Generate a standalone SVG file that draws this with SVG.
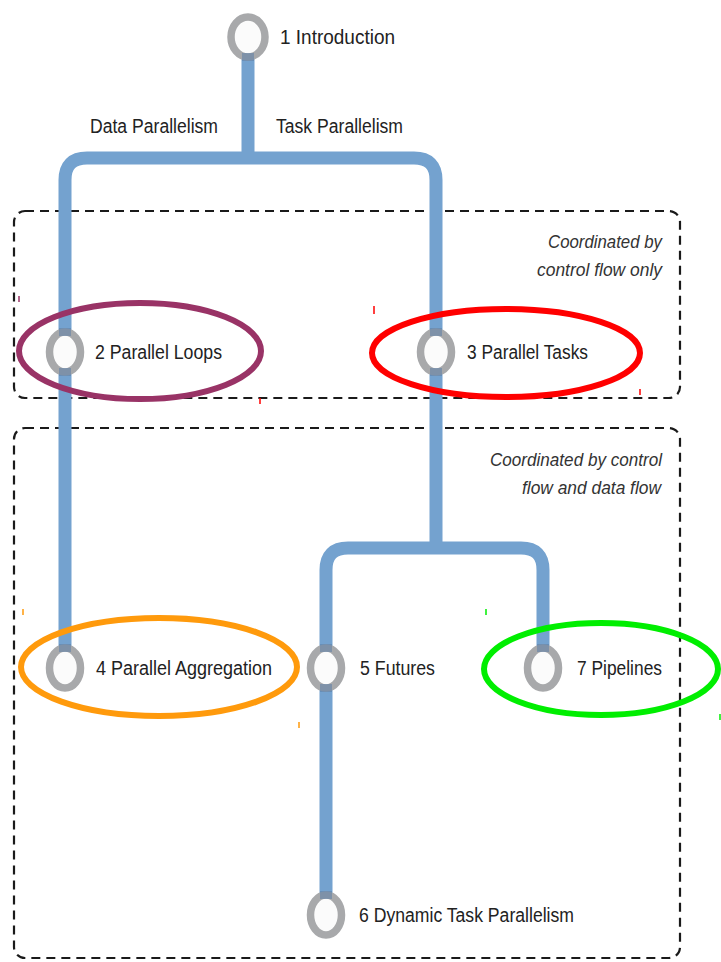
<svg xmlns="http://www.w3.org/2000/svg" width="721" height="962" viewBox="0 0 721 962">
  <defs>
    <style>
      .track { fill: none; stroke: #74a2cf; stroke-width: 13; stroke-linejoin: round; }
      .joint { fill: none; stroke: #5b7ea6; stroke-width: 12; opacity: 0.55; }
      .zone { fill: none; stroke: #1a1a1a; stroke-width: 2.2; stroke-dasharray: 9 6; }
      .ring { fill: #fbfbfb; stroke: #a8a9ab; stroke-width: 7.5; }
      .label { font-family: "Liberation Sans", Arial, sans-serif; font-size: 19.5px; fill: #222; }
      .note { font-family: "Liberation Sans", Arial, sans-serif; font-size: 18px; font-style: italic; fill: #333; text-anchor: end; }
      .mark { fill: none; stroke-width: 6; }
      .tick { stroke-width: 1.5; }
    </style>
  </defs>

  <rect width="721" height="962" fill="#ffffff"/>

  <!-- dashed coordination zones -->
  <g id="zones">
    <rect class="zone" x="14" y="211" width="666" height="187" rx="11"/>
    <rect class="zone" x="14" y="428" width="666" height="530" rx="11"/>
    <text class="note" x="662" y="248" textLength="114" lengthAdjust="spacingAndGlyphs">Coordinated by</text>
    <text class="note" x="662" y="276" textLength="125" lengthAdjust="spacingAndGlyphs">control flow only</text>
    <text class="note" x="662" y="466" textLength="172" lengthAdjust="spacingAndGlyphs">Coordinated by control</text>
    <text class="note" x="661" y="494" textLength="139" lengthAdjust="spacingAndGlyphs">flow and data flow</text>
  </g>

  <!-- connectors -->
  <g id="connectors">
    <path class="track" d="M248,58 V158"/>
    <path class="track" d="M65,668 V180 Q65,158 87,158 H414 Q436,158 436,180 V548"/>
    <path class="track" d="M326,915 V570 Q326,548 348,548 H521 Q543,548 543,570 V668"/>
    <text class="label" x="90" y="133" textLength="128" lengthAdjust="spacingAndGlyphs">Data Parallelism</text>
    <text class="label" x="276" y="133" textLength="127" lengthAdjust="spacingAndGlyphs">Task Parallelism</text>
  </g>

  <!-- chapter nodes -->
  <g id="node1">
    <ellipse class="ring" cx="248" cy="37" rx="17" ry="20"/>
    <path class="joint" d="M248,53 V61"/>
    <text class="label" x="280" y="44" textLength="115" lengthAdjust="spacingAndGlyphs">1 Introduction</text>
  </g>
  <g id="node2">
    <ellipse class="ring" cx="65" cy="352" rx="15.5" ry="20"/>
    <path class="joint" d="M65,328 V336 M65,368 V376"/>
    <text class="label" x="95" y="359" textLength="127" lengthAdjust="spacingAndGlyphs">2 Parallel Loops</text>
    <ellipse class="mark" cx="140" cy="351" rx="121" ry="48" stroke="#993366"/>
  </g>
  <g id="node3">
    <ellipse class="ring" cx="436" cy="352" rx="15.5" ry="20"/>
    <path class="joint" d="M436,328 V336 M436,368 V376"/>
    <text class="label" x="467" y="359" textLength="121" lengthAdjust="spacingAndGlyphs">3 Parallel Tasks</text>
    <ellipse class="mark" cx="506" cy="353" rx="134" ry="44" stroke="#ff0000"/>
  </g>
  <g id="node4">
    <ellipse class="ring" cx="65" cy="668" rx="15.5" ry="20"/>
    <path class="joint" d="M65,644 V652"/>
    <text class="label" x="96" y="675" textLength="176" lengthAdjust="spacingAndGlyphs">4 Parallel Aggregation</text>
    <ellipse class="mark" cx="159" cy="667" rx="138" ry="49" stroke="#ff9a0c"/>
  </g>
  <g id="node5">
    <ellipse class="ring" cx="326" cy="668" rx="15.5" ry="20"/>
    <path class="joint" d="M326,644 V652 M326,684 V692"/>
    <text class="label" x="360" y="675" textLength="75" lengthAdjust="spacingAndGlyphs">5 Futures</text>
  </g>
  <g id="node7">
    <ellipse class="ring" cx="543" cy="668" rx="15.5" ry="20"/>
    <path class="joint" d="M543,644 V652"/>
    <text class="label" x="577" y="675" textLength="85" lengthAdjust="spacingAndGlyphs">7 Pipelines</text>
    <ellipse class="mark" cx="601" cy="669" rx="117" ry="46" stroke="#00ee00"/>
  </g>
  <g id="node6">
    <ellipse class="ring" cx="326" cy="915" rx="15.5" ry="20"/>
    <path class="joint" d="M326,891 V899"/>
    <text class="label" x="359" y="922" textLength="215" lengthAdjust="spacingAndGlyphs">6 Dynamic Task Parallelism</text>
  </g>

  <!-- small pen strokes left by the highlighting -->
  <g id="ticks">
    <path class="tick" stroke="#993366" d="M19,296 V302"/>
    <path class="tick" stroke="#ff0000" d="M374,306 V314 M260,398 V404 M640,389 V395"/>
    <path class="tick" stroke="#ff9a0c" d="M23,609 V615 M299,722 V728"/>
    <path class="tick" stroke="#00ee00" d="M486,609 V615 M720,714 V720"/>
  </g>
</svg>
